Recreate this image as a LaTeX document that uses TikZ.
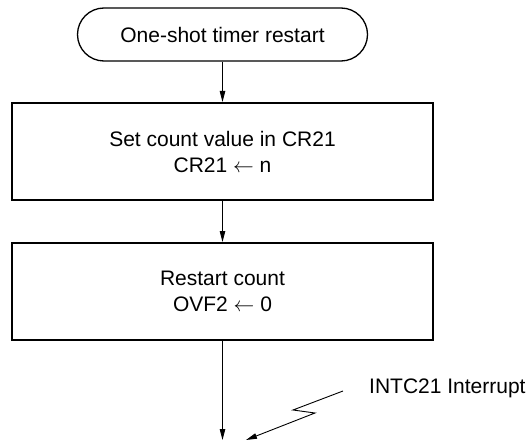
\documentclass[tikz,border=0pt]{standalone}
\usepackage{fontspec}
\setmainfont{Liberation Sans}
\usetikzlibrary{arrows.meta}
\begin{document}
\begin{tikzpicture}[x=1pt,y=-1pt,
  every node/.style={font=\fontsize{21}{26}\selectfont, align=center, inner sep=0pt},
  termbox/.style={draw, line width=1.3pt, minimum width=290pt, minimum height=53pt, rounded corners=26.5pt},
  procbox/.style={draw, line width=2pt, minimum width=421pt, minimum height=97pt},
  flow/.style={line width=0.9pt, -{Triangle[length=11pt,width=5.5pt]}},
  zap/.style={line width=0.9pt, -{Triangle[length=11pt,width=5.5pt]}}]
\useasboundingbox (0,0) rectangle (530,441);
\node[termbox] (start) at (222.5,34.5) {One-shot timer restart};
\node[procbox] (set) at (222.5,151.5) {Set count value in CR21\\CR21 $\leftarrow$ n};
\node[procbox] (restart) at (222.5,291.5) {Restart count\\OVF2 $\leftarrow$ 0};
\coordinate (end) at (222.5,440);
\draw[flow] (start) -- (set);
\draw[flow] (set) -- (restart);
\draw[flow] (restart) -- (end);
\coordinate (z0) at (343,391);
\coordinate (z1) at (293,410);
\coordinate (z2) at (315,413);
\coordinate (z3) at (246,440);
\draw[zap] (z0) -- (z1) -- (z2) -- (z3);
\node[anchor=base west] (intc) at (369,393) {INTC21 Interrupt};
\end{tikzpicture}
\end{document}
